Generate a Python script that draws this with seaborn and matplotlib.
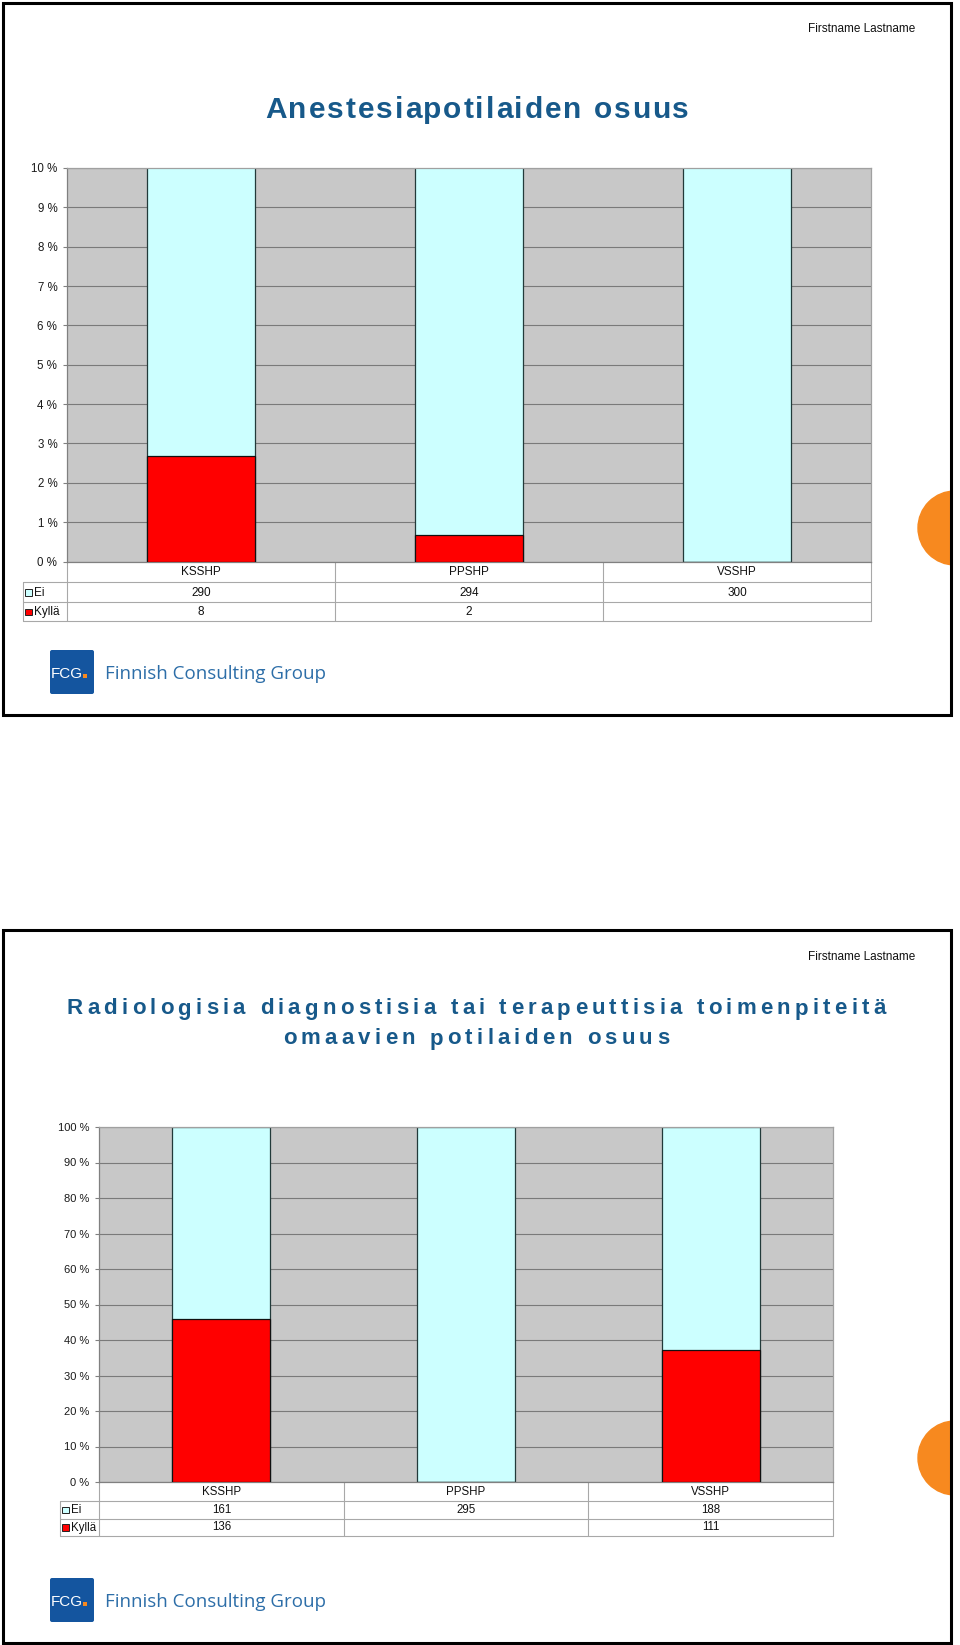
import numpy as np
import matplotlib
matplotlib.use("Agg")
import matplotlib.pyplot as plt
from matplotlib.patches import Rectangle, Circle, FancyBboxPatch
from matplotlib.font_manager import FontProperties, findfont, get_font
import seaborn as sns

# ---------------- data ----------------
categories = ["KSSHP", "PPSHP", "VSSHP"]

title1 = "Anestesiapotilaiden osuus"
ei_1 = [290, 294, 300]
kylla_1 = [8, 2, None]

title2_l1 = "Radiologisia diagnostisia tai terapeuttisia toimenpiteitä"
title2_l2 = "omaavien potilaiden osuus"
ei_2 = [161, 295, 188]
kylla_2 = [136, None, 111]

yticks_1 = list(range(0, 11, 1))
yticks_2 = list(range(0, 101, 10))
series_names = ["Ei", "Kyllä"]
author = "Firstname Lastname"
logo_text = "Finnish Consulting Group"

# ---------------- style ----------------
W, H, DPI = 960, 1645, 100
CYAN = "#ccffff"
RED = "#ff0000"
PLOTBG = "#c8c8c8"
TITLE_C = "#17598a"
ORANGE = "#f7891f"
LOGO_BLUE = "#14559f"
LOGO_TXT = "#2d6ea8"
TABLE_LC = "#a8a8a8"

sns.set_style("white")
plt.rcParams["font.family"] = ["Liberation Sans", "DejaVu Sans"]

fig = plt.figure(figsize=(W / DPI, H / DPI), dpi=DPI)
fig.patch.set_facecolor("white")

ov = fig.add_axes([0, 0, 1, 1])
ov.set_xlim(0, W)
ov.set_ylim(H, 0)
ov.axis("off")


def tracked_text(ax, cx, y_base, s, size_pt, tracking, color):
    fp = FontProperties(family="Liberation Sans", weight="bold", size=size_pt)
    font = get_font(findfont(fp))
    font.set_size(size_pt, DPI)
    advs = [font.load_char(ord(ch)).linearHoriAdvance / 65536 for ch in s]
    total = sum(advs) + tracking * (len(s) - 1)
    x = cx - total / 2
    for ch, a in zip(s, advs):
        if ch != " ":
            ax.text(x, y_base, ch, fontproperties=fp, color=color,
                    ha="left", va="baseline")
        x += a + tracking


def pct(ei, ky):
    tot = [(e or 0) + (k or 0) for e, k in zip(ei, ky)]
    total_pct = [100.0 if t else 0 for t in tot]
    ky_pct = [100.0 * (k or 0) / t for k, t in zip(ky, tot)]
    return total_pct, ky_pct


def draw_frame(ax, y_top, y_bot, circ_y):
    fr = Rectangle((2.5, y_top), 948.5, y_bot - y_top, fill=False,
                   ec="black", lw=2.2, zorder=5)
    ax.add_patch(fr)
    clip = Rectangle((2.5, y_top), 948.5, y_bot - y_top, transform=ax.transData)
    c = Circle((955, circ_y), 37, color=ORANGE, zorder=3)
    ax.add_patch(c)
    c.set_clip_path(clip)


def draw_logo(ax, y_top):
    sq = FancyBboxPatch((50, y_top + 1), 44, 44,
                        boxstyle="round,pad=0,rounding_size=2",
                        fc=LOGO_BLUE, ec="none", zorder=3)
    ax.add_patch(sq)
    ax.text(67, y_top + 29, "FCG", color="white", fontsize=11,
            family=["Liberation Sans Narrow", "Liberation Sans"],
            ha="center", va="baseline", zorder=4)
    ax.add_patch(Rectangle((83, y_top + 25), 4, 4, fc=ORANGE, ec="none", zorder=4))
    ax.text(105, y_top + 30, logo_text, color=LOGO_TXT, fontsize=13.5,
            family=["Open Sans", "DejaVu Sans"], ha="left", va="baseline", zorder=4)


def draw_chart(pl, pr, yt, y0, ymax, yticks, ei, ky, tick_fs):
    ax = fig.add_axes([pl / W, 1 - y0 / H, (pr - pl) / W, (y0 - yt) / H])
    total_pct, ky_pct = pct(ei, ky)
    sns.barplot(x=categories, y=total_pct, color=CYAN, saturation=1, width=0.4,
                edgecolor="#223a3a", linewidth=0.9, errorbar=None, ax=ax, zorder=2)
    sns.barplot(x=categories, y=ky_pct, color=RED, saturation=1, width=0.4,
                edgecolor="#111111", linewidth=0.9, errorbar=None, ax=ax, zorder=3)
    ax.set_facecolor(PLOTBG)
    ax.set_xlim(-0.5, len(categories) - 0.5)
    ax.set_ylim(0, ymax)
    ax.set_yticks(yticks)
    ax.set_yticklabels([f"{v} %" for v in yticks])
    ax.set_axisbelow(True)
    ax.yaxis.grid(True, color="#7a7a7a", lw=0.8)
    ax.xaxis.grid(False)
    ax.set_xlabel("")
    ax.set_ylabel("")
    ax.tick_params(axis="x", length=0, labelbottom=False)
    ax.tick_params(axis="y", length=3, width=0.8, color="#808080", pad=4,
                   labelsize=tick_fs, labelcolor="#1a1a1a", left=True)
    for side, col in [("left", "#808080"), ("bottom", "#808080"),
                      ("top", "#a0a0a0"), ("right", "#a0a0a0")]:
        ax.spines[side].set_visible(True)
        ax.spines[side].set_color(col)
        ax.spines[side].set_linewidth(0.9)
    return ax


def draw_table(ax, pl, pr, rows, leg_left, ei, ky, fs):
    y0, y1, y2, y3 = rows
    edges = np.linspace(pl, pr, len(categories) + 1)
    centers = (edges[:-1] + edges[1:]) / 2
    for yy in (y1, y2, y3):
        ax.plot([leg_left, pr], [yy, yy], color=TABLE_LC, lw=0.8, zorder=2)
    for xx in edges:
        ax.plot([xx, xx], [y0, y3], color=TABLE_LC, lw=0.8, zorder=2)
    ax.plot([leg_left, leg_left], [y1, y3], color=TABLE_LC, lw=0.8, zorder=2)
    for cx, cat in zip(centers, categories):
        ax.text(cx, (y0 + y1) / 2 + 0.5, cat, fontsize=fs, ha="center", va="center",
                color="#111111")
    for row, vals, col, name in [((y1, y2), ei, CYAN, series_names[0]),
                                 ((y2, y3), ky, RED, series_names[1])]:
        ym = (row[0] + row[1]) / 2
        for cx, v in zip(centers, vals):
            if v is not None:
                ax.text(cx, ym + 0.5, str(v), fontsize=fs, ha="center", va="center",
                        color="#111111")
        ax.add_patch(Rectangle((leg_left + 2, ym - 3), 6.5, 6.5, fc=col,
                               ec="#222222", lw=0.7, zorder=3))
        ax.text(leg_left + 11, ym + 0.5, name, fontsize=fs, ha="left", va="center",
                color="#111111")


# ---------------- slide 1 ----------------
draw_frame(ov, 3, 715, 528)
ov.text(915, 29, author, fontsize=8.5, ha="right", va="center", color="#111111")
tracked_text(ov, 477, 118.5, title1, 21.5, 1.9, TITLE_C)
draw_chart(67, 871, 168, 561.5, 10, yticks_1, ei_1, kylla_1, 8.3)
draw_table(ov, 67, 871, (561.5, 582, 602, 621), 23, ei_1, kylla_1, 8.5)
draw_logo(ov, 649)

# ---------------- slide 2 ----------------
draw_frame(ov, 930, 1642.5, 1458)
ov.text(915, 957.5, author, fontsize=8.5, ha="right", va="center", color="#111111")
tracked_text(ov, 476, 1014.5, title2_l1, 16, 4.2, TITLE_C)
tracked_text(ov, 476, 1044.5, title2_l2, 16, 4.2, TITLE_C)
draw_chart(99, 833, 1127, 1482, 100, yticks_2, ei_2, kylla_2, 8)
draw_table(ov, 99, 833, (1482, 1500.5, 1518.5, 1535.5), 60, ei_2, kylla_2, 8.3)
draw_logo(ov, 1577)

fig.savefig("out.png", dpi=DPI)
